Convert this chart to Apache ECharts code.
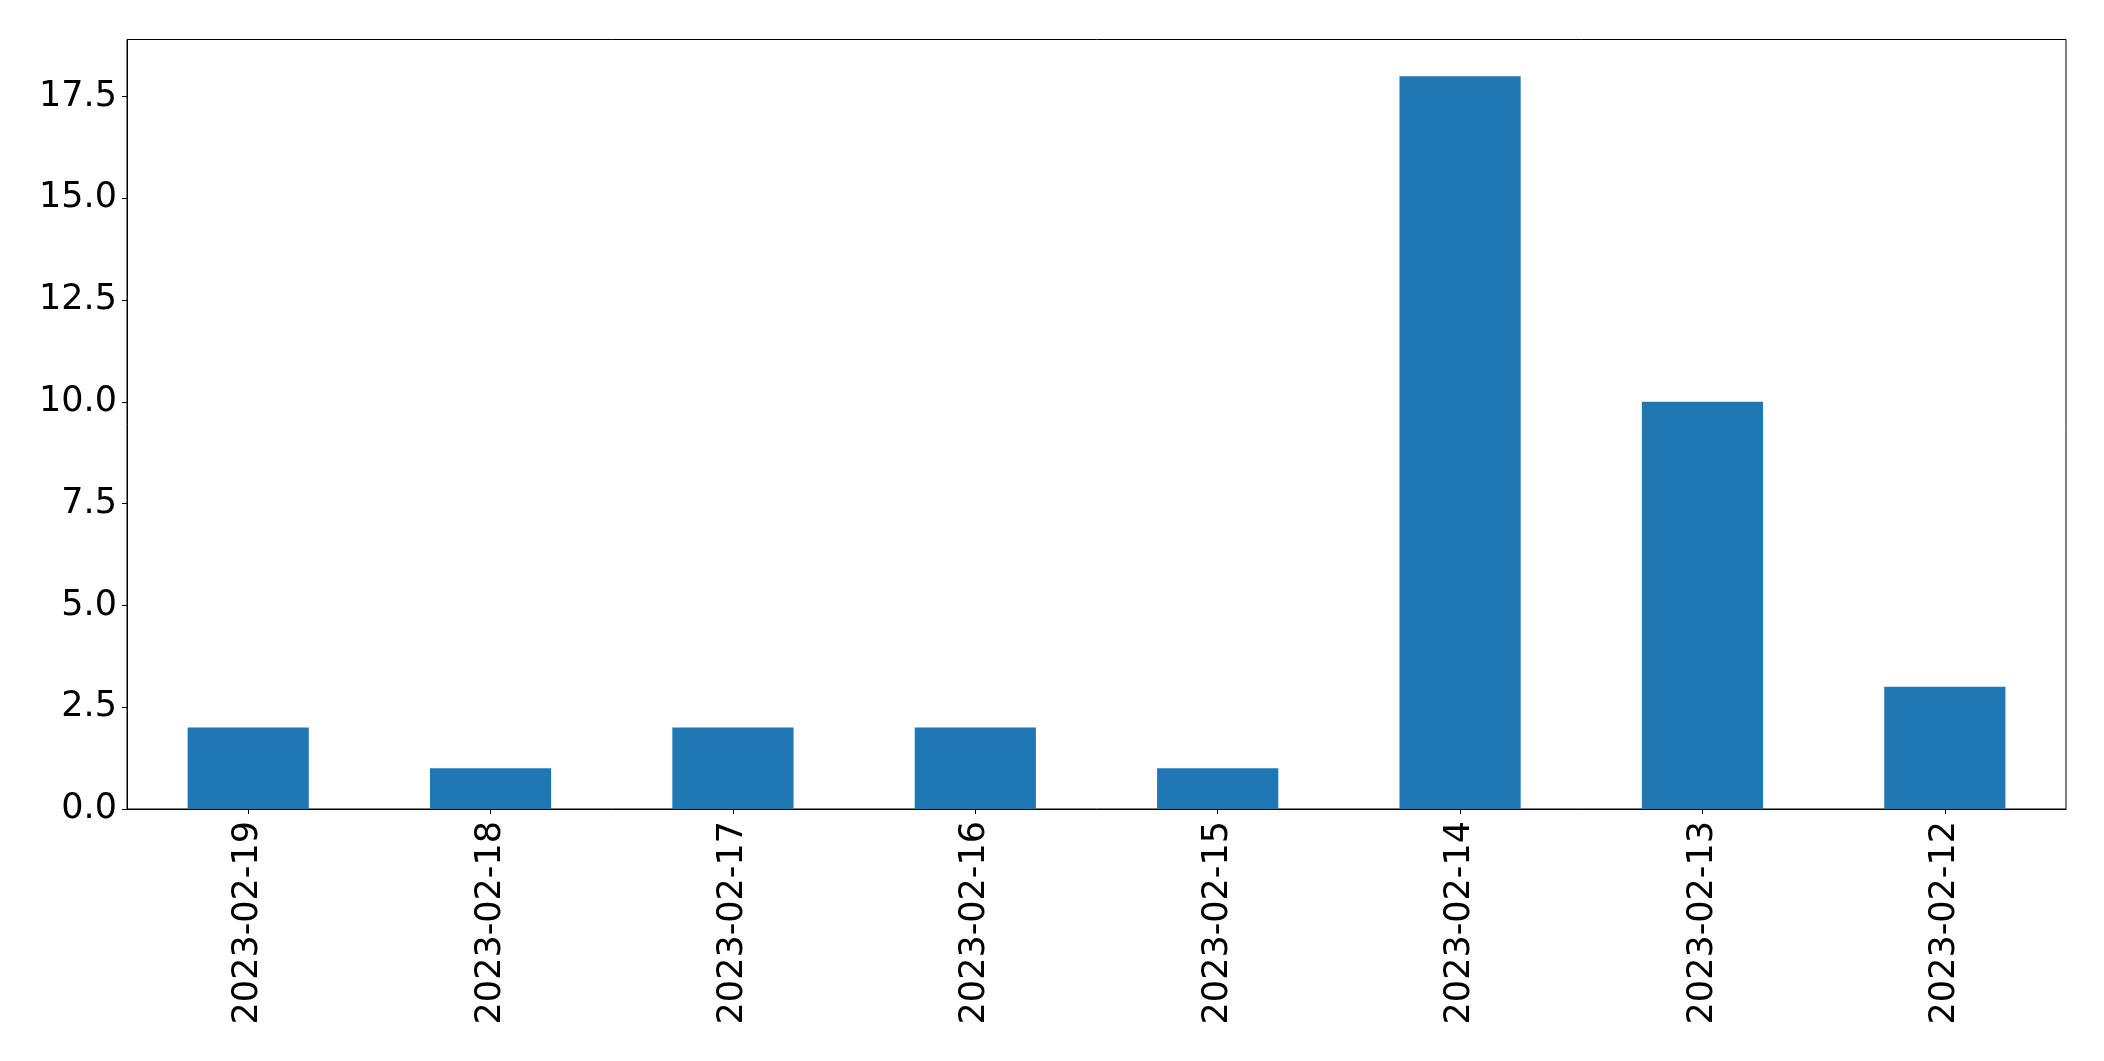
<!DOCTYPE html>
<html>
<head>
<meta charset="utf-8">
<script src="https://cdn.jsdelivr.net/npm/echarts@6/dist/echarts.min.js"></script>
<style>
html,body{margin:0;padding:0;background:#fff;}
#chart{width:2104px;height:1061px;}
</style>
</head>
<body>
<div id="chart"></div>
<script>
const categories = ['2023-02-19','2023-02-18','2023-02-17','2023-02-16','2023-02-15','2023-02-14','2023-02-13','2023-02-12'];
const values = [2, 1, 2, 2, 1, 18, 10, 3];
const yTicks = [0, 2.5, 5, 7.5, 10, 12.5, 15, 17.5];

const chart = echarts.init(document.getElementById('chart'), null, {renderer: 'canvas'});
const font = 'DejaVu Sans';
chart.setOption({
  animation: false,
  backgroundColor: '#ffffff',
  grid: {
    left: 127, top: 39.5, right: 38, bottom: 252,
    show: true, borderColor: '#000', borderWidth: 1, backgroundColor: 'transparent',
    containLabel: false
  },
  xAxis: {
    type: 'category',
    data: categories,
    boundaryGap: true,
    axisLine: {show: true, lineStyle: {color: '#000', width: 1}},
    axisTick: {show: true, alignWithLabel: true, length: 5, lineStyle: {color: '#000', width: 1}},
    axisLabel: {
      rotate: 90, margin: 12, color: '#000', fontFamily: font, fontSize: 35, interval: 0
    },
    splitLine: {show: false}
  },
  yAxis: {
    type: 'value',
    min: 0, max: 18.9,
    axisLine: {show: true, lineStyle: {color: '#000', width: 1}},
    axisTick: {show: true, length: 5, lineStyle: {color: '#000', width: 1}, customValues: yTicks},
    axisLabel: {
      color: '#000', fontFamily: font, fontSize: 35, margin: 10,
      customValues: yTicks,
      formatter: v => Number(v).toFixed(1)
    },
    splitLine: {show: false}
  },
  series: [{
    type: 'bar',
    data: values,
    barWidth: '50%',
    itemStyle: {color: '#1f77b4'}
  }]
});
</script>
</body>
</html>
